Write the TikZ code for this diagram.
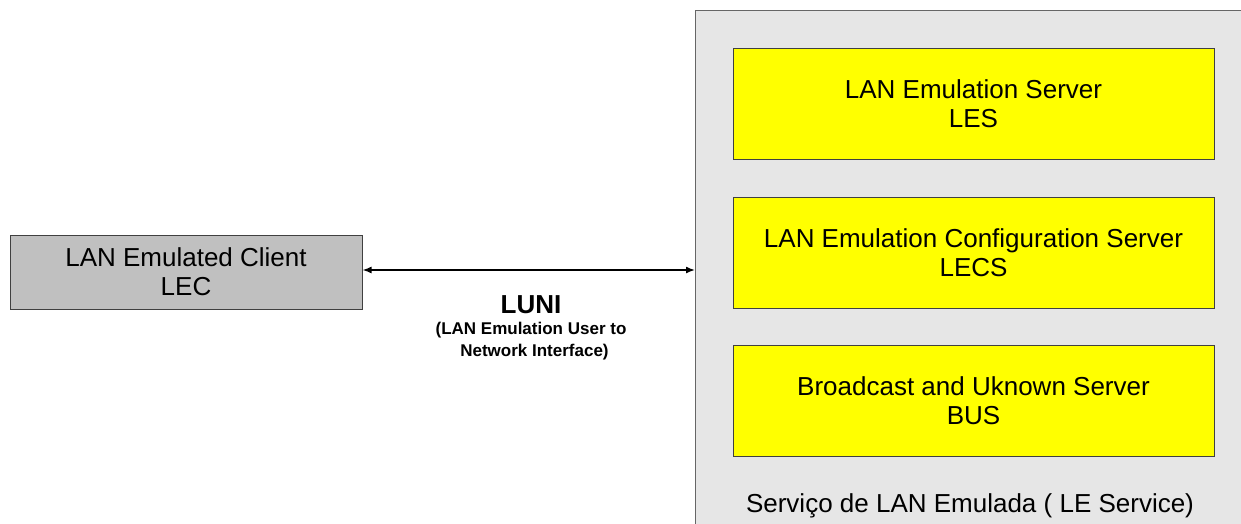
\documentclass[tikz,border=0pt]{standalone}
\usepackage{fontspec}
\setmainfont{Liberation Sans}
\usetikzlibrary{arrows.meta}
\definecolor{svcgray}{HTML}{E6E6E6}
\definecolor{lecgray}{HTML}{C0C0C0}
\definecolor{boxyellow}{HTML}{FFFF00}
\tikzset{
  ybox/.style={draw=black!75, line width=1pt, fill=boxyellow, minimum width=481pt, minimum height=111pt, align=center, font=\fontsize{26}{29}\selectfont, inner sep=0pt},
  lecbox/.style={draw=black!75, line width=1pt, fill=lecgray, minimum width=352pt, minimum height=74pt, align=center, font=\fontsize{26}{29}\selectfont, inner sep=0pt},
  conn/.style={line width=1.5pt, {Latex[length=9pt,width=7pt]}-{Latex[length=9pt,width=7pt]}}
}
\begin{document}
\begin{tikzpicture}[x=1pt,y=-1pt]
\useasboundingbox (0,0) rectangle (1241,524);
\clip (0,0) rectangle (1241,524);
\fill[white] (0,0) rectangle (1241,524);
% service area
\draw[draw=black!60, line width=1pt, fill=svcgray] (695,11) rectangle (1260,540);
\node[anchor=center, font=\fontsize{26}{29}\selectfont] (svc) at (970,506) {Serviço de LAN Emulada ( LE Service)};
\coordinate (svcleft) at (695,270);
% yellow boxes
\node[ybox] (les) at (973.5,104) {LAN Emulation Server\\LES};
\node[ybox] (lecs) at (973.5,252.5) {LAN Emulation Configuration Server\\LECS};
\node[ybox] (bus) at (973.5,401) {Broadcast and Uknown Server\\BUS};
% client
\node[lecbox] (lec) at (186,272) {LAN Emulated Client\\LEC};
% connector
\draw[conn] (lec.east |- svcleft) -- (svcleft);
\node[font=\bfseries\fontsize{26}{29}\selectfont] (luni) at (531,305) {LUNI};
\node[font=\bfseries\fontsize{17}{22}\selectfont, align=center] (lunid) at (531,341) {(LAN Emulation User to\\\hspace{7pt}Network Interface)};
\end{tikzpicture}
\end{document}
